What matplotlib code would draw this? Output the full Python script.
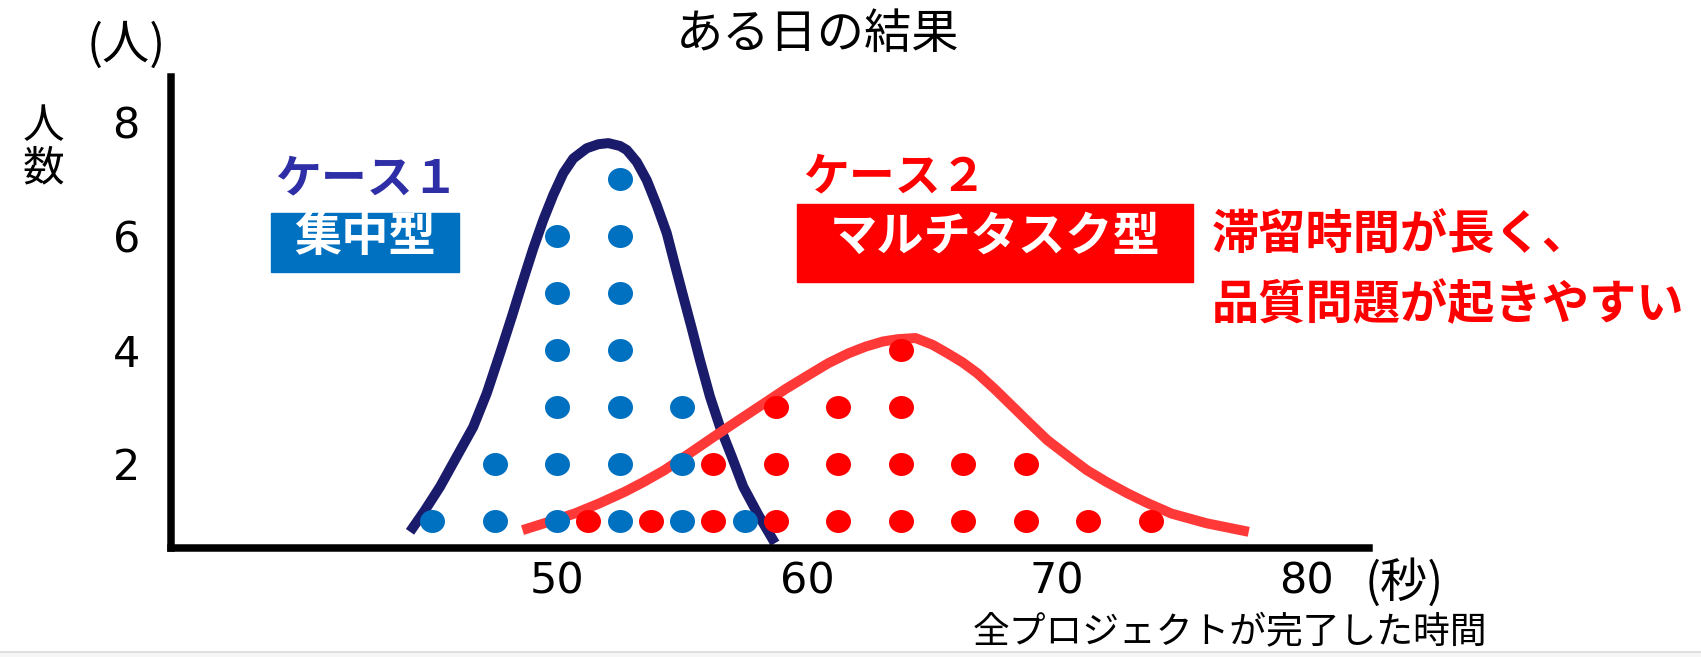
import numpy as np
import matplotlib
matplotlib.use("Agg")
import matplotlib.pyplot as plt
from matplotlib.path import Path
from matplotlib.patches import Rectangle
from matplotlib.lines import Line2D

plt.rcParams['font.family'] = ['Noto Sans CJK JP', 'DejaVu Sans']

# データ
# ケース1：集中型（各x位置の人数）
x_case1 = [45, 47.5, 50, 52.5, 55, 57.5]
n_case1 = [1, 2, 6, 7, 3, 1]
# ケース2：マルチタスク型
x_case2 = [51.25, 53.75, 56.25, 58.75, 61.25, 63.75, 66.25, 68.75, 71.25, 73.75]
n_case2 = [1, 1, 2, 3, 3, 4, 2, 2, 1, 1]

# 分布曲線（手書き風の線を読み取った点）
curve1_x = [44.12, 44.72, 45.32, 45.99, 46.65, 47.19, 47.72, 48.19, 48.65, 49.05,
            49.45, 49.85, 50.25, 50.65, 51.19, 51.65, 52.05, 52.52, 52.79, 53.19,
            53.59, 53.99, 54.39, 54.72, 55.05, 55.39, 55.72, 56.12, 56.52, 56.99,
            57.45, 58.05, 58.72]
curve1_y = [0.81, 1.19, 1.60, 2.13, 2.65, 3.24, 3.94, 4.58, 5.23, 5.78,
            6.28, 6.72, 7.10, 7.36, 7.54, 7.61, 7.63, 7.58, 7.51, 7.30,
            6.98, 6.54, 6.05, 5.49, 4.94, 4.38, 3.82, 3.18, 2.65, 2.13,
            1.60, 1.11, 0.61]
curve2_x = [48.62, 49.71, 50.70, 51.70, 52.70, 53.49, 54.29, 55.28, 56.28, 57.27,
            58.27, 59.16, 60.06, 60.86, 61.65, 62.35, 63.04, 63.64, 64.34, 65.03,
            65.63, 66.23, 66.82, 67.52, 68.22, 68.92, 69.61, 70.41, 71.20, 72.00,
            72.80, 73.59, 74.58, 75.98, 77.67]
curve2_y = [0.84, 0.99, 1.13, 1.31, 1.51, 1.69, 1.89, 2.18, 2.48, 2.77,
            3.06, 3.32, 3.56, 3.77, 3.94, 4.06, 4.15, 4.19, 4.21, 4.09,
            3.94, 3.78, 3.59, 3.31, 3.01, 2.71, 2.42, 2.15, 1.89, 1.68,
            1.49, 1.32, 1.13, 0.96, 0.81]

x_ticks = [50, 60, 70, 80]
y_ticks = [2, 4, 6, 8]

# 色
NAVY = '#1b1b6b'
RED_LINE = '#ff3838'
BLUE_DOT = '#0070c0'
RED_DOT = '#ff0000'
CASE1_TXT = '#2e2ea6'

W, H = 1701, 657
fig = plt.figure(figsize=(W / 100, H / 100), dpi=100)

def fx(px):
    return px / W

def fy(py):
    return 1 - py / H

ax = fig.add_axes([fx(170.5), fy(548), fx(1369) - fx(170.5), fy(77) - fy(548)])
ax.set_xlim(34.54, 82.48)
ax.set_ylim(0.526, 8.79)

# 楕円のマーカー
circ = Path.unit_circle()
ell = Path(circ.vertices * [1, 0.92], circ.codes)

def stack(xs, ns):
    px, py = [], []
    for x, n in zip(xs, ns):
        for k in range(1, n + 1):
            px.append(x)
            py.append(k)
    return px, py

ax.plot(curve1_x, curve1_y, color=NAVY, lw=7.2, solid_capstyle='butt',
        solid_joinstyle='round', zorder=2)
ax.plot(curve2_x, curve2_y, color=RED_LINE, lw=7.2, solid_capstyle='butt',
        solid_joinstyle='round', zorder=2)

bx, by = stack(x_case1, n_case1)
rx, ry = stack(x_case2, n_case2)
ax.plot(bx, by, ls='none', marker=ell, ms=18, color=BLUE_DOT, mec='none', zorder=3)
ax.plot(rx, ry, ls='none', marker=ell, ms=18, color=RED_DOT, mec='none', zorder=3)

for s in ['top', 'right']:
    ax.spines[s].set_visible(False)
for s in ['left', 'bottom']:
    ax.spines[s].set_linewidth(5.4)
    ax.spines[s].set_capstyle('projecting')

ax.set_xticks(x_ticks)
ax.set_yticks(y_ticks)
ax.tick_params(length=0, labelsize=31)
ax.tick_params(axis='x', pad=9)
ax.tick_params(axis='y', pad=22)
for lab in ax.get_xticklabels() + ax.get_yticklabels():
    lab.set_fontfamily('DejaVu Sans')

# テキスト
fig.text(fx(818), fy(35), 'ある日の結果', fontsize=34, ha='center', va='center')
fig.text(fx(126), fy(46), '(人)', fontsize=34, ha='center', va='center')
fig.text(fx(43), fy(127), '人', fontsize=30, ha='center', va='center')
fig.text(fx(43), fy(169), '数', fontsize=30, ha='center', va='center')
fig.text(fx(1404), fy(583), '(秒)', fontsize=34, ha='center', va='center')
fig.text(fx(1230), fy(633), '全プロジェクトが完了した時間', fontsize=26.5, ha='center', va='center')

fig.text(fx(367), fy(179), 'ケース１', fontsize=33, weight='bold', color=CASE1_TXT,
         ha='center', va='center')
fig.patches.append(Rectangle((fx(271), fy(272)), fx(459) - fx(271), fy(213) - fy(272),
                             transform=fig.transFigure, color=BLUE_DOT, zorder=1))
fig.text(fx(365), fy(237), '集中型', fontsize=34, weight='bold', color='white',
         ha='center', va='center', zorder=2)

fig.text(fx(895), fy(177), 'ケース２', fontsize=33, weight='bold', color=RED_DOT,
         ha='center', va='center')
fig.patches.append(Rectangle((fx(797), fy(282)), fx(1193) - fx(797), fy(204) - fy(282),
                             transform=fig.transFigure, color=RED_DOT, zorder=1))
fig.text(fx(995), fy(237), 'マルチタスク型', fontsize=34, weight='bold', color='white',
         ha='center', va='center', zorder=2)

fig.text(fx(1212), fy(235), '滞留時間が長く、', fontsize=34, weight='bold', color=RED_DOT,
         ha='left', va='center')
fig.text(fx(1212), fy(305), '品質問題が起きやすい', fontsize=34, weight='bold', color=RED_DOT,
         ha='left', va='center')

# 下端の枠線
fig.add_artist(Line2D([0, 1], [fy(651.5), fy(651.5)], transform=fig.transFigure,
                      color='#d8d8d8', lw=1.2))
fig.patches.append(Rectangle((0, 0), 1, fy(652.5), transform=fig.transFigure,
                             color='#f6f6f6', zorder=0))

fig.savefig('out.png', dpi=100)
